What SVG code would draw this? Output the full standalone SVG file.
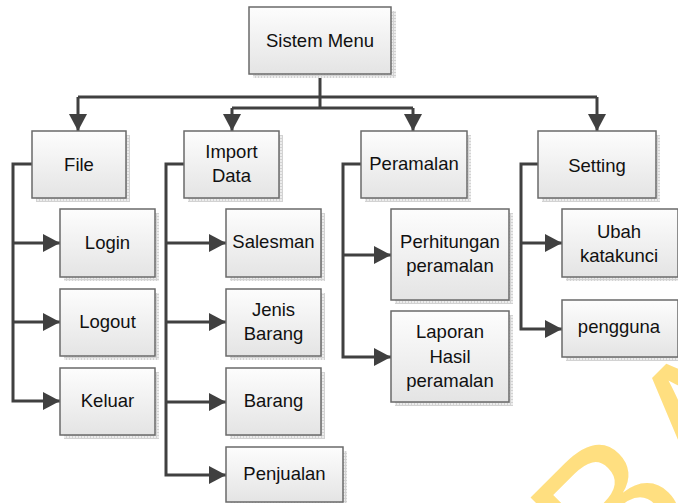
<svg xmlns="http://www.w3.org/2000/svg" width="678" height="503" viewBox="0 0 678 503">
  <defs>
    <linearGradient id="boxFill" x1="0" y1="0" x2="0" y2="1">
      <stop offset="0" stop-color="#fdfdfd"/>
      <stop offset="1" stop-color="#e4e4e4"/>
    </linearGradient>
    <pattern id="shadowGrid" width="3" height="3" patternUnits="userSpaceOnUse">
      <rect width="3" height="3" fill="#ececec"/>
      <path d="M0,0.5 H3 M0.5,0 V3" stroke="#d2d2d2" stroke-width="1"/>
    </pattern>
    <marker id="arrow" markerUnits="userSpaceOnUse" markerWidth="17" markerHeight="18" refX="17" refY="9" orient="auto">
      <path d="M0,0 L17,9 L0,18 Z" fill="#404040"/>
    </marker>
  </defs>
  <style>
    .shadow { fill: url(#shadowGrid); }
    .box { fill: url(#boxFill); stroke: #6a6a6a; stroke-width: 1.5; }
    .label { font-family: "Liberation Sans", Arial, sans-serif; font-size: 18.5px; fill: #111; text-anchor: middle; }
    .wire { fill: none; stroke: #404040; stroke-width: 3; }
    .watermark { font-family: "Liberation Sans", Arial, sans-serif; font-size: 190px; fill: #ffdf80; }
  </style>

  <rect width="678" height="503" fill="#ffffff"/>

  <!-- watermark lettering in the lower right corner -->
  <g id="watermark">
    <text class="watermark" x="0" y="0" transform="translate(612,601) rotate(-45)">B</text>
    <text class="watermark" x="0" y="0" transform="translate(706.6,508.4) rotate(-45)">A</text>
  </g>

  <!-- connectors -->
  <g id="connectors">
    <path class="wire" d="M320,74 V108"/>
    <path class="wire" d="M78,97 H597"/>
    <path class="wire" d="M232,108 H413"/>
    <path class="wire" d="M78,97 V131" marker-end="url(#arrow)"/>
    <path class="wire" d="M597,97 V131" marker-end="url(#arrow)"/>
    <path class="wire" d="M232,108 V131" marker-end="url(#arrow)"/>
    <path class="wire" d="M413,108 V131" marker-end="url(#arrow)"/>

    <!-- File branch -->
    <path class="wire" d="M32,164 H13 V401 H60" marker-end="url(#arrow)"/>
    <path class="wire" d="M13,243 H60" marker-end="url(#arrow)"/>
    <path class="wire" d="M13,322 H60" marker-end="url(#arrow)"/>

    <!-- Import Data branch -->
    <path class="wire" d="M184,164 H166 V475 H226" marker-end="url(#arrow)"/>
    <path class="wire" d="M166,243 H226" marker-end="url(#arrow)"/>
    <path class="wire" d="M166,322 H226" marker-end="url(#arrow)"/>
    <path class="wire" d="M166,402 H226" marker-end="url(#arrow)"/>

    <!-- Peramalan branch -->
    <path class="wire" d="M361,164 H343 V357 H391" marker-end="url(#arrow)"/>
    <path class="wire" d="M343,255 H391" marker-end="url(#arrow)"/>

    <!-- Setting branch -->
    <path class="wire" d="M538,164 H521 V329 H562" marker-end="url(#arrow)"/>
    <path class="wire" d="M521,243 H562" marker-end="url(#arrow)"/>
  </g>

  <!-- nodes -->
  <g id="sistem-menu">
    <rect class="shadow" x="253" y="11" width="143" height="67"/>
    <rect class="box" x="249" y="7" width="142" height="67"/>
    <text class="label" x="320" y="47">Sistem Menu</text>
  </g>

  <g id="file">
    <rect class="shadow" x="36" y="135" width="94" height="67"/>
    <rect class="box" x="32" y="131" width="94" height="67"/>
    <text class="label" x="79" y="171">File</text>
  </g>
  <g id="login">
    <rect class="shadow" x="64" y="213" width="95" height="68"/>
    <rect class="box" x="60" y="209" width="95" height="68"/>
    <text class="label" x="107.5" y="249">Login</text>
  </g>
  <g id="logout">
    <rect class="shadow" x="64" y="293" width="95" height="67"/>
    <rect class="box" x="60" y="289" width="95" height="67"/>
    <text class="label" x="107.5" y="328">Logout</text>
  </g>
  <g id="keluar">
    <rect class="shadow" x="64" y="372" width="95" height="67"/>
    <rect class="box" x="60" y="368" width="95" height="67"/>
    <text class="label" x="107.5" y="407">Keluar</text>
  </g>

  <g id="import-data">
    <rect class="shadow" x="188" y="135" width="95" height="67"/>
    <rect class="box" x="184" y="131" width="95" height="67"/>
    <text class="label" x="231.5" y="158">Import</text>
    <text class="label" x="231.5" y="182">Data</text>
  </g>
  <g id="salesman">
    <rect class="shadow" x="230" y="213" width="95" height="68"/>
    <rect class="box" x="226" y="209" width="95" height="68"/>
    <text class="label" x="273.5" y="248">Salesman</text>
  </g>
  <g id="jenis-barang">
    <rect class="shadow" x="230" y="293" width="95" height="67"/>
    <rect class="box" x="226" y="289" width="95" height="67"/>
    <text class="label" x="273.5" y="316">Jenis</text>
    <text class="label" x="273.5" y="340">Barang</text>
  </g>
  <g id="barang">
    <rect class="shadow" x="230" y="372" width="95" height="67"/>
    <rect class="box" x="226" y="368" width="95" height="67"/>
    <text class="label" x="273.5" y="407">Barang</text>
  </g>
  <g id="penjualan">
    <rect class="shadow" x="230" y="451" width="117" height="56"/>
    <rect class="box" x="226" y="447" width="117" height="55"/>
    <text class="label" x="284.5" y="480">Penjualan</text>
  </g>

  <g id="peramalan">
    <rect class="shadow" x="365" y="135" width="106" height="67"/>
    <rect class="box" x="361" y="131" width="106" height="67"/>
    <text class="label" x="414" y="170">Peramalan</text>
  </g>
  <g id="perhitungan-peramalan">
    <rect class="shadow" x="395" y="213" width="118" height="91"/>
    <rect class="box" x="391" y="209" width="118" height="91"/>
    <text class="label" x="450" y="248">Perhitungan</text>
    <text class="label" x="450" y="272">peramalan</text>
  </g>
  <g id="laporan-hasil-peramalan">
    <rect class="shadow" x="395" y="315" width="118" height="91"/>
    <rect class="box" x="391" y="311" width="118" height="91"/>
    <text class="label" x="450" y="338">Laporan</text>
    <text class="label" x="450" y="363">Hasil</text>
    <text class="label" x="450" y="387">peramalan</text>
  </g>

  <g id="setting">
    <rect class="shadow" x="542" y="135" width="118" height="67"/>
    <rect class="box" x="538" y="131" width="118" height="67"/>
    <text class="label" x="597" y="172">Setting</text>
  </g>
  <g id="ubah-katakunci">
    <rect class="shadow" x="566" y="213" width="116" height="68"/>
    <rect class="box" x="562" y="209" width="116" height="68"/>
    <text class="label" x="619" y="238">Ubah</text>
    <text class="label" x="619" y="262">katakunci</text>
  </g>
  <g id="pengguna">
    <rect class="shadow" x="566" y="304" width="116" height="57"/>
    <rect class="box" x="562" y="300" width="116" height="57"/>
    <text class="label" x="619" y="333">pengguna</text>
  </g>
</svg>
